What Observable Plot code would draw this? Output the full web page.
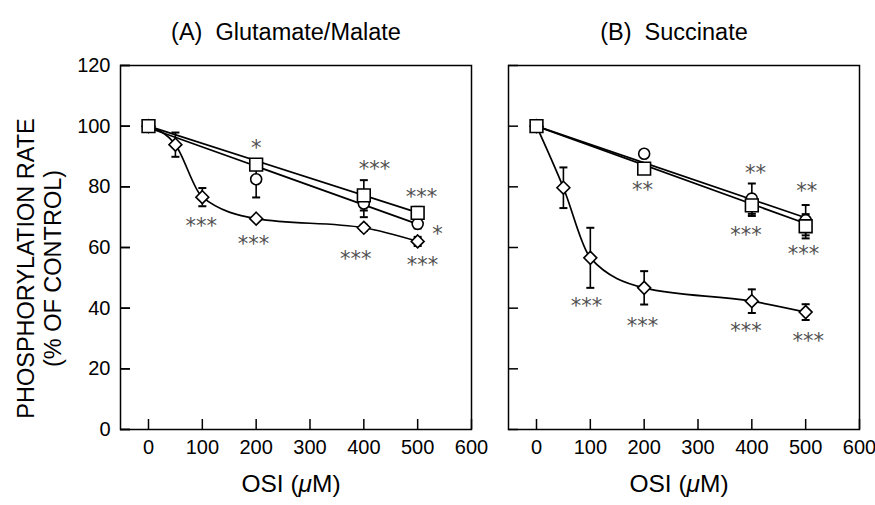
<!DOCTYPE html>
<html><head><meta charset="utf-8">
<script src="https://cdn.jsdelivr.net/npm/d3@7"></script>
<script src="https://cdn.jsdelivr.net/npm/@observablehq/plot@0.6"></script>
<style>body{margin:0;background:#fff} #chart{width:875px;height:505px}</style>
</head><body><div id="chart"></div>
<script>
// ---- data ----
const panels = ["A", "B"];
const panelTitles = ["(A)  Glutamate/Malate", "(B)  Succinate"];
const xTicks = [0, 100, 200, 300, 400, 500, 600];
const yTicks = [0, 20, 40, 60, 80, 100, 120];
const yLabel = "PHOSPHORYLATION RATE\n(% OF CONTROL)";
const xLabel = "OSI (μM)";

const osiDiamond = [0, 50, 100, 200, 400, 500];
const osiOther = [0, 200, 400, 500];
const osiFit = [0, 500];

// Panel A: Glutamate/Malate
const aSquare = [100, 87.3, 77.2, 71.4];
const aSquareErr = [0, 0, 5, 2];
const aSquareFit = [100, 71.5];
const aCircle = [100, 82.5, 74.5, 67.8];
const aCircleErr = [0, 6, 4.5, 1.5];
const aCircleFit = [99.5, 67.7];
const aDiamond = [100, 93.9, 76.6, 69.5, 66.5, 62.0];
const aDiamondErr = [0, 4, 3, 0.5, 1, 1.5];

// Panel B: Succinate
const bSquare = [100, 86.0, 73.9, 67.0];
const bSquareErr = [0, 0, 3.5, 4];
const bSquareFit = [100, 67.9];
const bCircle = [100, 90.9, 76.1, 69.0];
const bCircleErr = [0, 0, 5, 5];
const bCircleFit = [100, 69.8];
const bDiamond = [100, 79.7, 56.6, 46.7, 42.3, 38.7];
const bDiamondErr = [0, 6.7, 9.9, 5.5, 3.9, 2.6];

// significance marks
const sigPanel = ["A","A","A","A","A","A","A","A", "B","B","B","B","B","B","B","B","B"];
const sigX =     [200, 420, 507, 537, 509, 98, 195, 385,  197, 407, 389, 502, 496, 93, 197, 389, 505];
const sigY =     [94.5, 87.3, 78.3, 66, 55.8, 68.7, 62.6, 57.7,  80.5, 86.2, 65.7, 80.2, 59.4, 42.3, 35.7, 34, 30.7];
const sigText =  ["*","***","***","*","***","***","***","***",  "**","**","***","**","***","***","***","***","***"];

// ---- build tables ----
function rows(panel, series, xs, ys, es) {
  return xs.map((x, i) => ({panel, series, x, y: ys[i], err: es ? es[i] : 0}));
}
const squares = [...rows("A","square",osiOther,aSquare,aSquareErr), ...rows("B","square",osiOther,bSquare,bSquareErr)];
const circles = [...rows("A","circle",osiOther,aCircle,aCircleErr), ...rows("B","circle",osiOther,bCircle,bCircleErr)];
const diamonds = [...rows("A","diamond",osiDiamond,aDiamond,aDiamondErr), ...rows("B","diamond",osiDiamond,bDiamond,bDiamondErr)];
const fits = [
  ...rows("A","square",osiFit,aSquareFit), ...rows("A","circle",osiFit,aCircleFit),
  ...rows("B","square",osiFit,bSquareFit), ...rows("B","circle",osiFit,bCircleFit)
];
const all = [...diamonds, ...circles, ...squares];
const withErr = all.filter(d => d.err > 0);
const caps = withErr.flatMap(d => [{...d, y: d.y - d.err}, {...d, y: d.y + d.err}]);
const sig = sigText.map((t, i) => ({panel: sigPanel[i], x: sigX[i], y: sigY[i], t}));

const capSymbol = {draw(ctx, size) { const w = Math.sqrt(size / Math.PI); ctx.moveTo(-w, 0); ctx.lineTo(w, 0); }};

const chart = Plot.plot({
  width: 875, height: 505,
  marginLeft: 119, marginRight: 15, marginTop: 65, marginBottom: 76,
  style: {fontFamily: "'Liberation Sans', Arial, sans-serif", background: "#fff", color: "#000"},
  x: {domain: [-52, 600]},
  y: {domain: [0, 120]},
  fx: {domain: panels, paddingInner: 0.0944, paddingOuter: 0},
  marks: [
    Plot.axisFx({anchor: "top", tickSize: 0, tickPadding: 26, tickFormat: d => panelTitles[panels.indexOf(d)], fontSize: 23.5, label: null, dx: -10}),
    Plot.axisX({ticks: xTicks, tickSize: -10, tickPadding: 20, fontSize: 20, label: null, strokeWidth: 1.5}),
    Plot.axisY({ticks: yTicks, tickSize: -10, tickPadding: 20, fontSize: 20, label: null, strokeWidth: 1.5}),
    Plot.axisY({ticks: yTicks, tickSize: -10, tickFormat: () => "", facetAnchor: null, label: null, strokeWidth: 1.5}),
    Plot.frame({stroke: "#000", strokeWidth: 1.5}),
    Plot.text([{panel: "A", t: yLabel}], {fx: "panel", text: "t", frameAnchor: "left", textAnchor: "middle", rotate: -90, dx: -82, dy: 21, fontSize: 23.5, lineHeight: 1.15}),
    Plot.text([xLabel], {frameAnchor: "bottom", dy: 62, dx: -5, fontSize: 24.5}),
    Plot.line(fits, {fx: "panel", x: "x", y: "y", z: "series", stroke: "#000", strokeWidth: 1.7}),
    Plot.line(diamonds, {fx: "panel", x: "x", y: "y", z: "series", curve: "monotone-x", stroke: "#000", strokeWidth: 1.7}),
    Plot.ruleX(withErr, {fx: "panel", x: "x", y1: d => d.y - d.err, y2: d => d.y + d.err, stroke: "#000", strokeWidth: 1.6}),
    Plot.dot(caps, {fx: "panel", x: "x", y: "y", symbol: capSymbol, r: 4, stroke: "#000", strokeWidth: 2}),
    Plot.dot(diamonds, {fx: "panel", x: "x", y: "y", symbol: "diamond2", r: 5.8, fill: "#fff", stroke: "#000", strokeWidth: 1.6}),
    Plot.dot(circles, {fx: "panel", x: "x", y: "y", symbol: "circle", r: 5.5, fill: "#fff", stroke: "#000", strokeWidth: 1.6}),
    Plot.dot(squares, {fx: "panel", x: "x", y: "y", symbol: "square", r: 7.2, fill: "#fff", stroke: "#000", strokeWidth: 1.6}),
    Plot.text(sig, {fx: "panel", x: "x", y: "y", text: "t", fontFamily: "'DejaVu Sans', sans-serif", fontSize: 21, fill: "#505050", dy: 5})
  ]
});
document.getElementById("chart").appendChild(chart);

// italic mu in the x label
chart.querySelectorAll("text").forEach(el => {
  if (el.textContent === xLabel && el.children.length === 0) {
    el.textContent = "";
    const ns = "http://www.w3.org/2000/svg";
    el.appendChild(document.createTextNode("OSI ("));
    const t = document.createElementNS(ns, "tspan");
    t.setAttribute("font-style", "italic");
    t.textContent = "μ";
    el.appendChild(t);
    el.appendChild(document.createTextNode("M)"));
  }
});
</script>
</body></html>
